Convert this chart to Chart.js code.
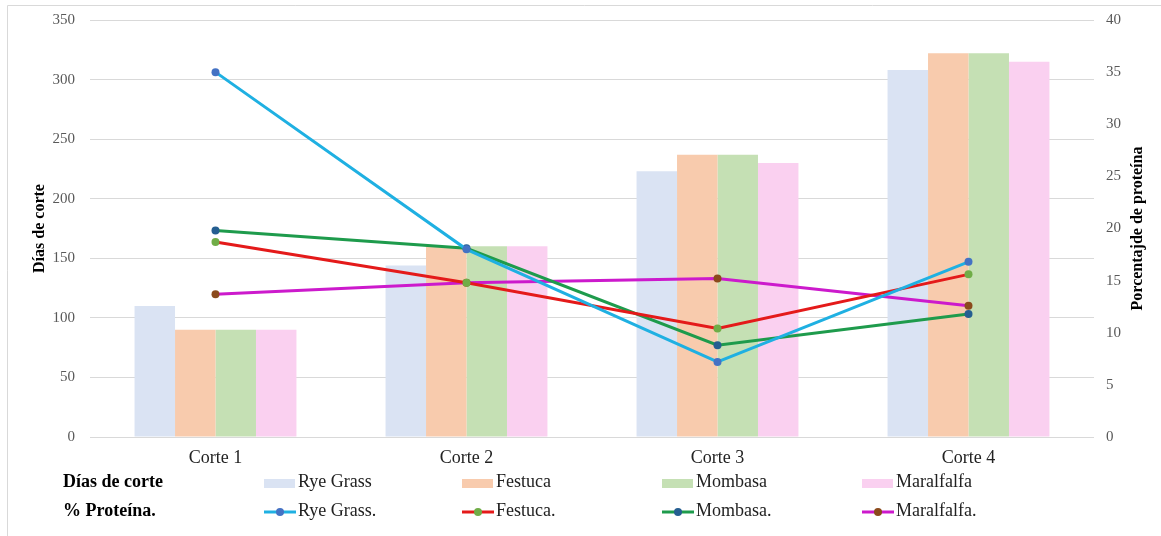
<!DOCTYPE html>
<html>
<head>
<meta charset="utf-8">
<script src="https://cdn.jsdelivr.net/npm/chart.js@4/dist/chart.umd.min.js"></script>
<style>
  html, body { margin: 0; padding: 0; background: #fff; }
  #wrap { width: 1161px; height: 536px; position: relative; }
</style>
</head>
<body>
<div id="wrap"><canvas id="myChart"></canvas></div>
<script>
const categories = ['Corte 1', 'Corte 2', 'Corte 3', 'Corte 4'];

// Días de corte (left axis, bars)
const diasRyeGrass = [110, 144, 223, 308];
const diasFestuca = [90, 160, 237, 322];
const diasMombasa = [90, 160, 237, 322];
const diasMaralfalfa = [90, 160, 230, 315];

// % Proteína (right axis, lines)
const protRyeGrass = [35.0, 18.0, 7.2, 16.8];
const protFestuca = [18.7, 14.8, 10.4, 15.6];
const protMombasa = [19.8, 18.1, 8.8, 11.8];
const protMaralfalfa = [13.7, 14.8, 15.2, 12.6];

const rightTitle = 'Porcentajde de proteína';

const serif = '"Liberation Serif", "Times New Roman", serif';
const gridColor = '#d9d9d9';

const legendRows = [
  { title: 'Días de corte', type: 'bar', y: 482 },
  { title: '% Proteína.', type: 'line', y: 511 }
];
const legendCols = [264, 462, 662, 862];

const legendPlugin = {
  id: 'rowLegend',
  afterDraw(chart) {
    const c = chart.ctx;
    const area = chart.chartArea;
    c.save();
    // frame
    c.strokeStyle = gridColor;
    c.lineWidth = 1;
    c.beginPath();
    c.moveTo(7.5, 536);
    c.lineTo(7.5, 5.5);
    c.lineTo(1161, 5.5);
    c.stroke();

    // right axis title, reading upwards like the left one
    c.save();
    c.translate(1138, (area.top + area.bottom) / 2);
    c.rotate(-Math.PI / 2);
    c.font = 'bold 16px ' + serif;
    c.fillStyle = '#000';
    c.textAlign = 'center';
    c.textBaseline = 'middle';
    c.fillText(rightTitle, 0, 0);
    c.restore();

    c.textBaseline = 'middle';
    legendRows.forEach(row => {
      c.font = 'bold 18px ' + serif;
      c.fillStyle = '#000';
      c.textAlign = 'left';
      c.fillText(row.title, 63, row.y);
      const sets = chart.data.datasets.filter(d => d.type === row.type);
      sets.forEach((ds, i) => {
        const x = legendCols[i];
        if (row.type === 'bar') {
          c.fillStyle = ds.backgroundColor;
          c.fillRect(x, row.y - 3, 31, 9);
        } else {
          c.strokeStyle = ds.borderColor;
          c.lineWidth = 3;
          c.beginPath();
          c.moveTo(x, row.y + 1);
          c.lineTo(x + 32, row.y + 1);
          c.stroke();
          c.fillStyle = ds.pointBackgroundColor;
          c.beginPath();
          c.arc(x + 16, row.y + 1, 4, 0, Math.PI * 2);
          c.fill();
        }
        c.font = '18px ' + serif;
        c.fillStyle = '#222';
        c.fillText(ds.label, x + 34, row.y);
      });
    });
    c.restore();
  }
};

// keep the plot area where the reference has it
const fixVertical = width => s => {
  s.width = width;
  s.paddingTop = 0;
  s.paddingBottom = 0;
};

const ctx = document.getElementById('myChart');

new Chart(ctx, {
  data: {
    labels: categories,
    datasets: [
      { type: 'line', label: 'Rye Grass.', data: protRyeGrass, yAxisID: 'y1', order: 0,
        borderColor: '#1fb0e2', pointBackgroundColor: '#4472c4' },
      { type: 'line', label: 'Festuca.', data: protFestuca, yAxisID: 'y1', order: 0,
        borderColor: '#e41a1a', pointBackgroundColor: '#70ad47' },
      { type: 'line', label: 'Mombasa.', data: protMombasa, yAxisID: 'y1', order: 0,
        borderColor: '#1e9b4c', pointBackgroundColor: '#255e91' },
      { type: 'line', label: 'Maralfalfa.', data: protMaralfalfa, yAxisID: 'y1', order: 0,
        borderColor: '#cc1acc', pointBackgroundColor: '#8b4a1c' },
      { type: 'bar', label: 'Rye Grass', data: diasRyeGrass, yAxisID: 'y', order: 1, backgroundColor: '#dae3f3' },
      { type: 'bar', label: 'Festuca', data: diasFestuca, yAxisID: 'y', order: 1, backgroundColor: '#f8cbad' },
      { type: 'bar', label: 'Mombasa', data: diasMombasa, yAxisID: 'y', order: 1, backgroundColor: '#c5e0b4' },
      { type: 'bar', label: 'Maralfalfa', data: diasMaralfalfa, yAxisID: 'y', order: 1, backgroundColor: '#fad0f0' }
    ]
  },
  options: {
    responsive: true,
    maintainAspectRatio: false,
    animation: false,
    layout: { padding: { top: 20, left: 0, right: 0, bottom: 0 } },
    datasets: {
      bar: { categoryPercentage: 0.645, barPercentage: 1.0 },
      line: { borderWidth: 3, tension: 0, pointRadius: 4, pointBorderWidth: 0, pointHoverRadius: 4 }
    },
    plugins: {
      legend: { display: false },
      tooltip: { enabled: false }
    },
    scales: {
      x: {
        grid: { display: false },
        border: { display: false },
        ticks: { color: '#222', padding: 2, font: { family: serif, size: 18 } },
        afterFit: s => { s.height = 99; }
      },
      y: {
        position: 'left',
        min: 0, max: 350,
        ticks: { stepSize: 50, color: '#595959', padding: 15, font: { family: serif, size: 15 } },
        grid: { color: gridColor, drawTicks: false },
        border: { display: false },
        title: { display: true, text: 'Días de corte', color: '#000',
                 font: { family: serif, size: 16, weight: 'bold' }, padding: { top: 30 } },
        afterFit: fixVertical(90)
      },
      y1: {
        position: 'right',
        min: 0, max: 40,
        ticks: { stepSize: 5, color: '#595959', padding: 12, font: { family: serif, size: 15 } },
        grid: { display: false, drawTicks: false },
        border: { display: false },
        title: { display: false },
        afterFit: fixVertical(67)
      }
    }
  },
  plugins: [legendPlugin]
});
</script>
</body>
</html>
